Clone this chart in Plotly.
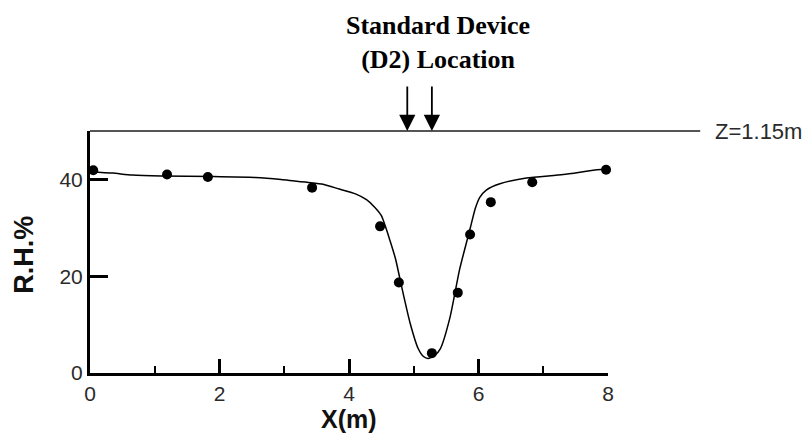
import plotly.graph_objects as go

# measured points
meas_x = [0.05, 1.19, 1.82, 3.43, 4.48, 4.77, 5.28, 5.68, 5.87, 6.19, 6.83, 7.97]
meas_rh = [41.9, 41.0, 40.5, 38.3, 30.3, 18.7, 4.1, 16.6, 28.6, 35.3, 39.4, 42.0]

# predicted curve
curve_x = [0.0, 0.35, 0.65, 1.1, 1.9, 2.55, 2.95, 3.35, 3.6, 3.85, 4.1, 4.27, 4.4, 4.5,
           4.63, 4.72, 4.81, 4.94, 5.07, 5.15, 5.22, 5.32, 5.41, 5.56, 5.71, 5.87, 5.95,
           6.02, 6.12, 6.33, 6.74, 7.31, 7.83, 8.0]
curve_rh = [41.6, 41.3, 40.9, 40.7, 40.6, 40.4, 40.0, 39.4, 39.0, 38.0, 37.0, 35.8, 34.2, 32.5,
            27.5, 23.5, 18.0, 10.5, 5.0, 3.4, 3.0, 3.6, 5.0, 11.5, 21.5, 29.8, 34.0,
            36.3, 37.8, 39.1, 40.3, 41.0, 42.0, 42.1]

x_ticks = [0, 2, 4, 6, 8]
y_ticks = [0, 20, 40]
device_x = [4.9, 5.28]
z_level = 50
z_label = "Z=1.15m"
title_text = "<b>Standard Device<br>(D2) Location</b>"

tick_font = dict(family="Liberation Sans Narrow, Arial Narrow, Liberation Sans, Arial", size=21, color="#2a2a2a")

fig = go.Figure()
fig.add_trace(go.Scatter(x=curve_x, y=curve_rh, mode="lines",
                         line=dict(color="black", width=1.5, shape="spline", smoothing=0.6),
                         hoverinfo="skip", showlegend=False))
fig.add_trace(go.Scatter(x=meas_x, y=meas_rh, mode="markers",
                         marker=dict(color="black", size=10), showlegend=False, cliponaxis=False))

fig.update_layout(
    width=808, height=433,
    margin=dict(l=90, r=200, t=131, b=60),
    plot_bgcolor="white", paper_bgcolor="white",
    xaxis=dict(range=[0, 8], tickvals=x_ticks, ticks="inside", ticklen=14, tickwidth=3,
               tickcolor="black", showline=True, linewidth=3, linecolor="black",
               showgrid=False, zeroline=False, tickfont=tick_font, ticklabelstandoff=0,
               minor=dict(dtick=1, tick0=0, ticks="inside", ticklen=7, tickwidth=2, tickcolor="black", showgrid=False)),
    yaxis=dict(range=[0, z_level], tickvals=y_ticks, ticks="inside", ticklen=18, tickwidth=3,
               tickcolor="black", showline=True, linewidth=3, linecolor="black",
               showgrid=False, zeroline=False, tickfont=tick_font),
)

# top line at Z level
fig.add_shape(type="line", xref="paper", yref="paper", x0=0, x1=1.178, y0=1, y1=1,
              line=dict(color="#555", width=2))

fig.add_annotation(xref="paper", yref="paper", x=1.2027, y=1, xanchor="left", yanchor="middle",
                   text=z_label, showarrow=False, font=dict(tick_font, size=22))

for dx in device_x:
    fig.add_annotation(x=dx, y=z_level, xref="x", yref="y", ax=0, ay=-46, text="",
                       showarrow=True, arrowhead=2, arrowsize=1.8, arrowwidth=1.8,
                       arrowcolor="black", standoff=0)

fig.add_annotation(xref="paper", yref="paper", x=0.672, y=1.365, xanchor="center", yanchor="middle",
                   text=title_text, showarrow=False,
                   font=dict(family="Liberation Serif, Times New Roman, serif", size=26, color="black"))

fig.add_annotation(xref="paper", yref="paper", x=-0.127, y=0.49, textangle=-90,
                   xanchor="center", yanchor="middle", text="<b>R.H.%</b>", showarrow=False,
                   font=dict(family="Liberation Sans, Arial", size=27, color="#111"))

fig.add_annotation(xref="paper", yref="paper", x=0.5, y=-0.19, xanchor="center", yanchor="middle",
                   text="<b>X(m)</b>", showarrow=False,
                   font=dict(family="Liberation Sans, Arial", size=25, color="#111"))

fig.write_html("out.html")
